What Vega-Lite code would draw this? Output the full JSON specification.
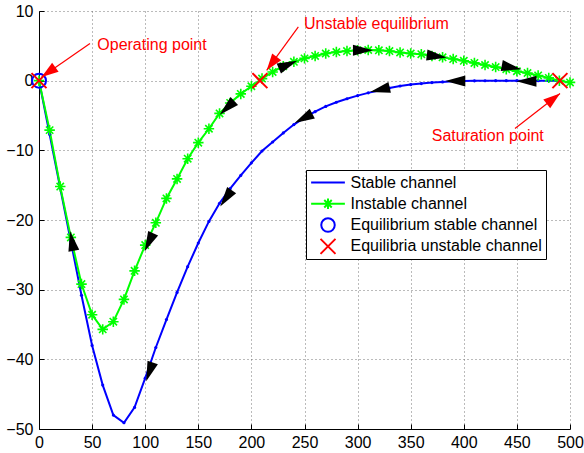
{
  "$schema": "https://vega.github.io/schema/vega-lite/v6.json",
  "width": 531,
  "height": 418,
  "autosize": "none",
  "padding": {"left": 39, "top": 11, "right": 14, "bottom": 24},
  "background": "white",
  "config": {
    "view": {"stroke": null},
    "font": "Liberation Sans",
    "axis": {
      "domainColor": "black", "domainWidth": 1,
      "tickColor": "black", "tickSize": -5, "tickWidth": 1,
      "labelColor": "black", "labelFont": "Liberation Sans", "labelFontSize": 16,
      "labelFlush": false, "labelOverlap": false,
      "grid": true, "gridColor": "#555555", "gridDash": [1, 3], "gridOpacity": 0.8,
      "title": null
    }
  },
  "datasets": {
    "curves": [
      {"series": "Stable channel", "x": 0, "y": 0},
      {"series": "Stable channel", "x": 10, "y": -7.7},
      {"series": "Stable channel", "x": 20, "y": -15.4},
      {"series": "Stable channel", "x": 30, "y": -23.1},
      {"series": "Stable channel", "x": 40, "y": -30.8},
      {"series": "Stable channel", "x": 50, "y": -38},
      {"series": "Stable channel", "x": 60, "y": -43.7},
      {"series": "Stable channel", "x": 70, "y": -48},
      {"series": "Stable channel", "x": 80, "y": -49.1},
      {"series": "Stable channel", "x": 90, "y": -46.9},
      {"series": "Stable channel", "x": 100, "y": -42.7},
      {"series": "Stable channel", "x": 110, "y": -38.3},
      {"series": "Stable channel", "x": 120, "y": -34.3},
      {"series": "Stable channel", "x": 130, "y": -30.4},
      {"series": "Stable channel", "x": 140, "y": -26.7},
      {"series": "Stable channel", "x": 150, "y": -23.3},
      {"series": "Stable channel", "x": 160, "y": -20.2},
      {"series": "Stable channel", "x": 170, "y": -17.6},
      {"series": "Stable channel", "x": 180, "y": -15.5},
      {"series": "Stable channel", "x": 190, "y": -13.6},
      {"series": "Stable channel", "x": 200, "y": -11.8},
      {"series": "Stable channel", "x": 210, "y": -10.1},
      {"series": "Stable channel", "x": 220, "y": -8.8},
      {"series": "Stable channel", "x": 230, "y": -7.5},
      {"series": "Stable channel", "x": 240, "y": -6.3},
      {"series": "Stable channel", "x": 250, "y": -5.3},
      {"series": "Stable channel", "x": 260, "y": -4.45},
      {"series": "Stable channel", "x": 270, "y": -3.7},
      {"series": "Stable channel", "x": 280, "y": -3.1},
      {"series": "Stable channel", "x": 290, "y": -2.6},
      {"series": "Stable channel", "x": 300, "y": -2.15},
      {"series": "Stable channel", "x": 310, "y": -1.75},
      {"series": "Stable channel", "x": 320, "y": -1.4},
      {"series": "Stable channel", "x": 330, "y": -1.05},
      {"series": "Stable channel", "x": 340, "y": -0.76},
      {"series": "Stable channel", "x": 350, "y": -0.56},
      {"series": "Stable channel", "x": 360, "y": -0.42},
      {"series": "Stable channel", "x": 370, "y": -0.28},
      {"series": "Stable channel", "x": 380, "y": -0.18},
      {"series": "Stable channel", "x": 390, "y": -0.1},
      {"series": "Stable channel", "x": 400, "y": -0.05},
      {"series": "Stable channel", "x": 410, "y": -0.02},
      {"series": "Stable channel", "x": 420, "y": -0.01},
      {"series": "Stable channel", "x": 430, "y": 0},
      {"series": "Stable channel", "x": 440, "y": 0},
      {"series": "Stable channel", "x": 450, "y": 0},
      {"series": "Stable channel", "x": 460, "y": 0},
      {"series": "Stable channel", "x": 470, "y": 0},
      {"series": "Stable channel", "x": 480, "y": 0},
      {"series": "Stable channel", "x": 490, "y": 0},
      {"series": "Instable channel", "x": 0, "y": 0},
      {"series": "Instable channel", "x": 10, "y": -7.1},
      {"series": "Instable channel", "x": 20, "y": -15.2},
      {"series": "Instable channel", "x": 30, "y": -22.5},
      {"series": "Instable channel", "x": 40, "y": -29.2},
      {"series": "Instable channel", "x": 50, "y": -33.6},
      {"series": "Instable channel", "x": 60, "y": -35.7},
      {"series": "Instable channel", "x": 70, "y": -34.6},
      {"series": "Instable channel", "x": 80, "y": -31.4},
      {"series": "Instable channel", "x": 90, "y": -27.3},
      {"series": "Instable channel", "x": 100, "y": -23.6},
      {"series": "Instable channel", "x": 110, "y": -20.4},
      {"series": "Instable channel", "x": 120, "y": -16.9},
      {"series": "Instable channel", "x": 130, "y": -14.1},
      {"series": "Instable channel", "x": 140, "y": -11.2},
      {"series": "Instable channel", "x": 150, "y": -8.9},
      {"series": "Instable channel", "x": 160, "y": -6.9},
      {"series": "Instable channel", "x": 170, "y": -4.7},
      {"series": "Instable channel", "x": 180, "y": -3.2},
      {"series": "Instable channel", "x": 190, "y": -1.9},
      {"series": "Instable channel", "x": 200, "y": -0.8},
      {"series": "Instable channel", "x": 210, "y": 0.3},
      {"series": "Instable channel", "x": 220, "y": 1.25},
      {"series": "Instable channel", "x": 230, "y": 2.07},
      {"series": "Instable channel", "x": 240, "y": 2.7},
      {"series": "Instable channel", "x": 250, "y": 3.2},
      {"series": "Instable channel", "x": 260, "y": 3.55},
      {"series": "Instable channel", "x": 270, "y": 3.9},
      {"series": "Instable channel", "x": 280, "y": 4.1},
      {"series": "Instable channel", "x": 290, "y": 4.25},
      {"series": "Instable channel", "x": 300, "y": 4.35},
      {"series": "Instable channel", "x": 310, "y": 4.4},
      {"series": "Instable channel", "x": 320, "y": 4.35},
      {"series": "Instable channel", "x": 330, "y": 4.25},
      {"series": "Instable channel", "x": 340, "y": 4.05},
      {"series": "Instable channel", "x": 350, "y": 3.9},
      {"series": "Instable channel", "x": 360, "y": 3.8},
      {"series": "Instable channel", "x": 370, "y": 3.55},
      {"series": "Instable channel", "x": 380, "y": 3.35},
      {"series": "Instable channel", "x": 390, "y": 3.1},
      {"series": "Instable channel", "x": 400, "y": 2.85},
      {"series": "Instable channel", "x": 410, "y": 2.55},
      {"series": "Instable channel", "x": 420, "y": 2.25},
      {"series": "Instable channel", "x": 430, "y": 1.95},
      {"series": "Instable channel", "x": 440, "y": 1.65},
      {"series": "Instable channel", "x": 450, "y": 1.35},
      {"series": "Instable channel", "x": 460, "y": 1.1},
      {"series": "Instable channel", "x": 470, "y": 0.75},
      {"series": "Instable channel", "x": 480, "y": 0.4},
      {"series": "Instable channel", "x": 490, "y": 0.0},
      {"series": "Instable channel", "x": 500, "y": -0.25}
    ],
    "equilibria": [
      {"series": "Equilibrium stable channel", "x": 0, "y": 0},
      {"series": "Equilibria unstable channel", "x": 0, "y": 0},
      {"series": "Equilibria unstable channel", "x": 208, "y": 0},
      {"series": "Equilibria unstable channel", "x": 490.5, "y": 0}
    ],
    "flow": [
      {"x": 31, "y": -23, "dir": 349},
      {"x": 103.5, "y": -23.2, "dir": 205},
      {"x": 177, "y": -3.9, "dir": 227},
      {"x": 234.5, "y": 2.3, "dir": 67},
      {"x": 305, "y": 4.35, "dir": 90},
      {"x": 374.5, "y": 3.5, "dir": 97},
      {"x": 445, "y": 1.9, "dir": 101},
      {"x": 104, "y": -41.8, "dir": 199},
      {"x": 176, "y": -16.9, "dir": 215},
      {"x": 249, "y": -5.4, "dir": 242},
      {"x": 321, "y": -1.3, "dir": 257},
      {"x": 392, "y": -0.05, "dir": 270},
      {"x": 459, "y": -0.1, "dir": 270}
    ],
    "notes": [
      {"label": "Operating point", "tx": 54.9, "ty": 5.08, "x": 48.0, "y": 5.33, "x2": 2.5, "y2": 0.53, "dir": 234.7},
      {"label": "Unstable equilibrium", "tx": 249.5, "ty": 8.12, "x": 244.2, "y": 7.71, "x2": 214.4, "y2": 1.49, "dir": 216.6},
      {"label": "Saturation point", "tx": 369.8, "ty": -7.95, "x": 448.2, "y": -6.88, "x2": 490.6, "y2": -1.85, "dir": 52.1}
    ]
  },
  "layer": [
    {
      "data": {"name": "curves"},
      "mark": {"type": "line", "strokeWidth": 2},
      "encoding": {
        "x": {"field": "x", "type": "quantitative",
          "scale": {"domain": [0, 500], "nice": false, "zero": false},
          "axis": {"values": [0, 50, 100, 150, 200, 250, 300, 350, 400, 450, 500], "labelPadding": 10}},
        "y": {"field": "y", "type": "quantitative",
          "scale": {"domain": [-50, 10], "nice": false, "zero": false},
          "axis": {"values": [-50, -40, -30, -20, -10, 0, 10], "labelPadding": 11}},
        "color": {"field": "series", "type": "nominal",
          "scale": {"domain": ["Stable channel", "Instable channel", "Equilibrium stable channel", "Equilibria unstable channel"],
                    "range": ["#0000ff", "#00ff00", "#0000ff", "#ff0000"]},
          "legend": {
            "title": null, "orient": "none", "legendX": 267, "legendY": 159,
            "direction": "vertical", "padding": 4, "rowPadding": 4.3,
            "strokeColor": "black", "fillColor": "white",
            "labelFont": "Liberation Sans", "labelFontSize": 16, "labelColor": "black", "labelLimit": 0,
            "symbolSize": 225, "symbolStrokeWidth": 2, "symbolOffset": 9.5, "labelOffset": 14,
            "clipHeight": 17,
            "encode": {
              "symbols": {"update": {
                "shape": {"signal": "datum.value === 'Stable channel' ? 'M-2.25,0L2.25,0' : datum.value === 'Instable channel' ? 'M-2.25,0L2.25,0M-0.7,0L0.7,0M0,-0.7L0,0.7M-0.5,-0.5L0.5,0.5M-0.5,0.5L0.5,-0.5' : datum.value === 'Equilibrium stable channel' ? 'M0.9,0A0.9,0.9,0,1,1,-0.9,0A0.9,0.9,0,1,1,0.9,0Z' : 'M-1,-1L1,1M-1,1L1,-1'"},
                "fill": {"value": "transparent"},
                "stroke": {"scale": "color", "field": "value"},
                "strokeWidth": {"value": 2},
                "opacity": {"value": 1}
              }}
            }
          }
        }
      }
    },
    {
      "data": {"name": "curves"},
      "transform": [{"filter": "datum.series === 'Stable channel'"}],
      "mark": {"type": "point", "shape": "circle", "filled": true, "size": 10, "opacity": 1, "color": "#0000ff"},
      "encoding": {
        "x": {"field": "x", "type": "quantitative"},
        "y": {"field": "y", "type": "quantitative"}
      }
    },
    {
      "data": {"name": "curves"},
      "transform": [{"filter": "datum.series === 'Instable channel'"}],
      "mark": {"type": "point", "shape": "M-1,0L1,0M0,-1L0,1M-0.7,-0.7L0.7,0.7M-0.7,0.7L0.7,-0.7", "filled": false, "size": 110, "strokeWidth": 1.6, "opacity": 1, "color": "#00ff00"},
      "encoding": {
        "x": {"field": "x", "type": "quantitative"},
        "y": {"field": "y", "type": "quantitative"}
      }
    },
    {
      "data": {"name": "equilibria"},
      "transform": [{"filter": "datum.series === 'Equilibrium stable channel'"}],
      "mark": {"type": "point", "shape": "circle", "filled": false, "size": 196, "strokeWidth": 2, "opacity": 1, "color": "#0000ff"},
      "encoding": {
        "x": {"field": "x", "type": "quantitative"},
        "y": {"field": "y", "type": "quantitative"}
      }
    },
    {
      "data": {"name": "equilibria"},
      "transform": [{"filter": "datum.series === 'Equilibria unstable channel'"}],
      "mark": {"type": "point", "shape": "M-1,-1L1,1M-1,1L1,-1", "filled": false, "size": 225, "strokeWidth": 2, "opacity": 1, "color": "#ff0000"},
      "encoding": {
        "x": {"field": "x", "type": "quantitative"},
        "y": {"field": "y", "type": "quantitative"}
      }
    },
    {
      "data": {"name": "flow"},
      "mark": {"type": "point", "shape": "M0,-1L0.55,1L-0.55,1Z", "filled": true, "size": 400, "opacity": 1, "color": "black", "strokeWidth": 0},
      "encoding": {
        "x": {"field": "x", "type": "quantitative"},
        "y": {"field": "y", "type": "quantitative"},
        "angle": {"field": "dir", "type": "quantitative", "scale": null}
      }
    },
    {
      "data": {"name": "notes"},
      "mark": {"type": "rule", "color": "#ff0000", "strokeWidth": 1.2},
      "encoding": {
        "x": {"field": "x", "type": "quantitative"},
        "y": {"field": "y", "type": "quantitative"},
        "x2": {"field": "x2"},
        "y2": {"field": "y2"}
      }
    },
    {
      "data": {"name": "notes"},
      "mark": {"type": "point", "shape": "M0,0L0.7,2.1L-0.7,2.1Z", "filled": true, "size": 256, "opacity": 1, "color": "#ff0000", "strokeWidth": 0},
      "encoding": {
        "x": {"field": "x2", "type": "quantitative"},
        "y": {"field": "y2", "type": "quantitative"},
        "angle": {"field": "dir", "type": "quantitative", "scale": null}
      }
    },
    {
      "data": {"name": "notes"},
      "mark": {"type": "text", "align": "left", "baseline": "middle", "font": "Liberation Sans", "fontSize": 16, "color": "#ff0000"},
      "encoding": {
        "x": {"field": "tx", "type": "quantitative"},
        "y": {"field": "ty", "type": "quantitative"},
        "text": {"field": "label"}
      }
    }
  ]
}
